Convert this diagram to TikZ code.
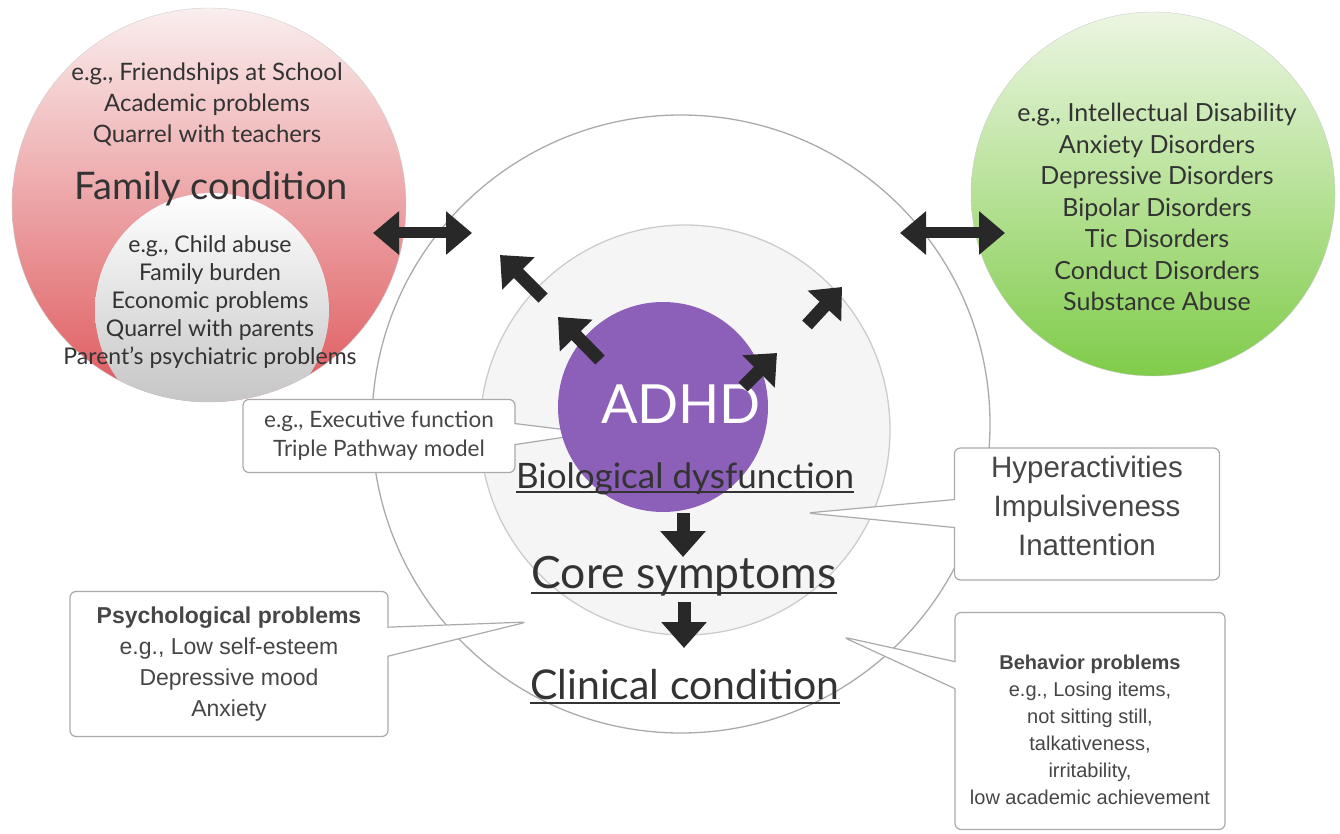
\documentclass[tikz,border=0pt]{standalone}
\usepackage{fontspec}
\setmainfont{Lato}
\newfontfamily\boxfont{Liberation Sans}
\usetikzlibrary{arrows.meta,shapes.callouts}
\definecolor{famtop}{RGB}{250,238,238}
\definecolor{fammid}{RGB}{240,192,192}
\definecolor{fambot}{RGB}{222,88,92}
\definecolor{comtop}{RGB}{236,246,226}
\definecolor{commid}{RGB}{196,232,160}
\definecolor{combot}{RGB}{128,204,74}
\definecolor{adhdpurple}{RGB}{140,95,185}
\definecolor{inkgray}{RGB}{51,51,51}
\definecolor{boxgray}{RGB}{70,70,70}
\definecolor{ringgray}{RGB}{170,170,170}
\definecolor{arrowgray}{RGB}{40,40,40}

\begin{document}
\begin{tikzpicture}[
  x=1pt,y=-1pt,
  ring/.style={draw=ringgray,line width=1.3pt},
  ctext/.style={align=center,text=inkgray,inner sep=0pt},
  steplabel/.style={text=inkgray,inner sep=0pt,anchor=base},
  uline/.style={inkgray,line width=1.8pt},
  note/.style={rectangle callout,draw=ringgray,line width=1.2pt,fill=white,
               rounded corners=6pt,align=center,text=boxgray,inner sep=0pt},
  fat/.style={-{Triangle[width=44pt,length=26pt]},line width=13pt,arrowgray},
  dbl/.style={{Triangle[width=42pt,length=26pt]}-{Triangle[width=42pt,length=26pt]},
              line width=11pt,arrowgray}
]
  \useasboundingbox (0,0) rectangle (1340,834);

  % outer and middle rings
  \draw[ring] (681,424) circle (309);
  \draw[ring,draw=ringgray!60,fill=black!4] (685,430) circle (205);

  % family circle with the home disc inside
  \shadedraw[top color=famtop,middle color=fammid,bottom color=fambot,draw=ringgray!60]
    (209,205) circle (197);
  \begin{scope}
    \clip (209,205) circle (197);
    \shade[top color=white,bottom color=black!25] (212,310) circle (117);
  \end{scope}

  % comorbidity circle
  \shadedraw[top color=comtop,middle color=commid,bottom color=combot,draw=ringgray!60]
    (1153,194) circle (182);

  % callout boxes
  \coordinate (execTip) at (592,433);
  \coordinate (hyperTip) at (807,513);
  \coordinate (psychTip) at (527,622);
  \coordinate (behavTip) at (843,637);
  \node[note,font=\fontsize{22.5}{29}\selectfont,minimum width=272pt,minimum height=73pt,
        callout absolute pointer={(execTip)},callout pointer width=21pt]
    (exec) at (379,436) {e.g., Executive function\\Triple Pathway model};
  \node[note,font=\boxfont\fontsize{29.5}{39}\selectfont,minimum width=265pt,minimum height=132pt,
        callout absolute pointer={(hyperTip)},callout pointer width=28pt]
    (hyper) at (1087,514) {Hyperactivities\\Impulsiveness\\Inattention\rule[-16pt]{0pt}{0pt}};
  \node[note,font=\boxfont\fontsize{23}{31}\selectfont,minimum width=318pt,minimum height=145pt,
        callout absolute pointer={(psychTip)},callout pointer width=29pt]
    (psych) at (229,664) {{\bfseries Psychological problems}\\e.g., Low self-esteem\\
      Depressive mood\\Anxiety};
  \node[note,font=\boxfont\fontsize{20}{27}\selectfont,minimum width=270pt,minimum height=217pt,
        callout absolute pointer={(behavTip)},callout pointer width=27pt]
    (behav) at (1090,721) {\rule{0pt}{33pt}{\bfseries Behavior problems}\\e.g., Losing items,\\
      not sitting still,\\talkativeness,\\irritability,\\low academic achievement};

  % ADHD disc
  \fill[adhdpurple] (663,407) circle (105);
  \node[text=white,inner sep=0pt,anchor=base,font=\fontsize{54}{60}\selectfont]
    (adhd) at (681,423) {ADHD};

  % circle texts
  \node[ctext,font=\fontsize{24}{31}\selectfont] (school) at (207,104)
    {e.g., Friendships at School\\Academic problems\\Quarrel with teachers};
  \node[ctext,anchor=base,font=\fontsize{38}{44}\selectfont] (family) at (211,200) {Family condition};
  \node[ctext,font=\fontsize{23}{28}\selectfont] (home) at (210,302)
    {e.g., Child abuse\\Family burden\\Economic problems\\Quarrel with parents\\
     Parent's psychiatric problems};
  \node[ctext,font=\fontsize{25}{31.5}\selectfont] (comorb) at (1157,207)
    {e.g., Intellectual Disability\\Anxiety Disorders\\Depressive Disorders\\Bipolar Disorders\\
     Tic Disorders\\Conduct Disorders\\Substance Abuse};

  % the three levels
  \node[steplabel,font=\fontsize{35}{40}\selectfont] (bio) at (685,488) {Biological dysfunction};
  \node[steplabel,font=\fontsize{44.5}{50}\selectfont] (core) at (684,588) {Core symptoms};
  \node[steplabel,font=\fontsize{41}{46}\selectfont] (clin) at (685,699) {Clinical condition};
  \draw[uline] ([yshift=-4pt]bio.base west) -- ([yshift=-4pt]bio.base east);
  \draw[uline] ([yshift=-5pt]core.base west) -- ([yshift=-5pt]core.base east);
  \draw[uline] ([yshift=-4pt]clin.base west) -- ([yshift=-4pt]clin.base east);

  % arrows
  \coordinate (famArrowA) at (373,233);
  \coordinate (famArrowB) at (472,233);
  \coordinate (comArrowA) at (900,233);
  \coordinate (comArrowB) at (1005,233);
  \coordinate (ulOuterA) at (543,298);
  \coordinate (ulOuterB) at (500,255);
  \coordinate (ulInnerA) at (600,360);
  \coordinate (ulInnerB) at (558,317);
  \coordinate (urOuterA) at (807,325);
  \coordinate (urOuterB) at (842,287);
  \coordinate (urInnerA) at (743,387);
  \coordinate (urInnerB) at (777,353);
  \coordinate (downA) at (683,513);
  \coordinate (downB) at (683,557);
  \coordinate (downC) at (684,602);
  \coordinate (downD) at (684,648);
  \draw[dbl] (famArrowA) -- (famArrowB);
  \draw[dbl] (comArrowA) -- (comArrowB);
  \draw[fat] (ulOuterA) -- (ulOuterB);
  \draw[fat] (ulInnerA) -- (ulInnerB);
  \draw[fat] (urOuterA) -- (urOuterB);
  \draw[fat] (urInnerA) -- (urInnerB);
  \draw[fat] (downA) -- (downB);
  \draw[fat] (downC) -- (downD);
\end{tikzpicture}
\end{document}
